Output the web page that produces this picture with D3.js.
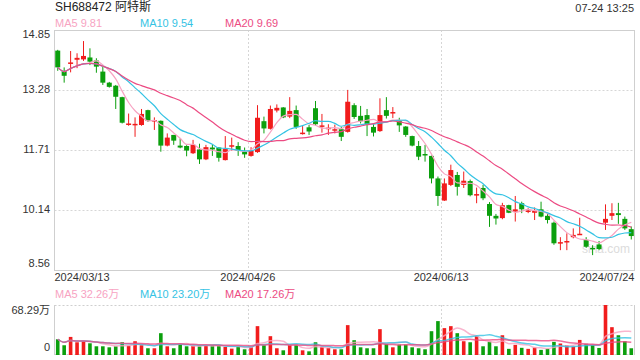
<!DOCTYPE html>
<html><head><meta charset="utf-8">
<script src="https://cdn.jsdelivr.net/npm/d3@7/dist/d3.min.js"></script>
<style>
body{margin:0;background:#fff}
svg{display:block;font-family:"Liberation Sans",Arial,"Noto Sans CJK SC",sans-serif}
</style>
</head><body>
<svg id="c" width="640" height="360"></svg>
<script>
// ---------- data ----------
const title = "SH688472 阿特斯";
const timeLabel = "07-24 13:25";
const dates = [
 "2024/03/13","2024/03/14","2024/03/15","2024/03/18","2024/03/19","2024/03/20","2024/03/21","2024/03/22","2024/03/25","2024/03/26","2024/03/27","2024/03/28","2024/03/29",
 "2024/04/01","2024/04/02","2024/04/03","2024/04/08","2024/04/09","2024/04/10","2024/04/11","2024/04/12","2024/04/15","2024/04/16","2024/04/17","2024/04/18","2024/04/19","2024/04/22","2024/04/23","2024/04/24","2024/04/25","2024/04/26","2024/04/29","2024/04/30",
 "2024/05/06","2024/05/07","2024/05/08","2024/05/09","2024/05/10","2024/05/13","2024/05/14","2024/05/15","2024/05/16","2024/05/17","2024/05/20","2024/05/21","2024/05/22","2024/05/23","2024/05/24","2024/05/27","2024/05/28","2024/05/29","2024/05/30","2024/05/31",
 "2024/06/03","2024/06/04","2024/06/05","2024/06/06","2024/06/07","2024/06/11","2024/06/12","2024/06/13","2024/06/14","2024/06/17","2024/06/18","2024/06/19","2024/06/20","2024/06/21","2024/06/24","2024/06/25","2024/06/26","2024/06/27","2024/06/28",
 "2024/07/01","2024/07/02","2024/07/03","2024/07/04","2024/07/05","2024/07/08","2024/07/09","2024/07/10","2024/07/11","2024/07/12","2024/07/15","2024/07/16","2024/07/17","2024/07/18","2024/07/19","2024/07/22","2024/07/23","2024/07/24"
];
const open = [14.31,13.78,13.98,14.07,14.08,14.13,14.05,13.76,13.47,13.39,13.09,12.38,12.37,12.36,12.75,12.48,12.47,11.82,12.10,11.82,11.81,11.62,11.72,11.46,11.77,11.77,11.44,11.81,11.81,11.66,11.55,11.65,12.46,12.26,12.74,12.82,12.58,12.75,12.14,12.30,12.80,12.32,12.25,12.21,12.25,12.18,12.88,12.60,12.62,12.31,12.20,12.75,12.68,12.49,12.32,12.07,11.81,11.60,11.55,10.96,10.38,10.79,11.05,10.79,10.89,10.51,10.71,10.29,9.98,9.92,10.26,10.09,10.31,10.10,10.06,10.15,9.98,9.80,9.27,9.30,9.42,9.49,9.35,9.14,9.23,9.80,9.98,10.05,9.90,9.63];
const high = [14.33,13.87,14.30,14.24,14.56,14.37,14.11,13.89,13.49,13.41,13.10,12.66,12.56,12.78,12.76,12.56,12.48,12.14,12.10,12.01,11.83,11.97,11.87,11.84,11.85,11.78,12.07,12.03,11.91,11.77,11.78,12.88,12.58,12.87,12.90,12.83,13.09,12.87,12.36,12.36,12.99,12.65,12.38,12.37,12.31,13.28,12.93,12.86,12.78,12.41,13.06,13.09,12.83,12.55,12.33,12.08,11.94,11.84,11.56,11.01,10.96,11.32,11.13,11.14,10.93,10.72,10.79,10.34,10.03,10.32,10.27,10.50,10.35,10.18,10.20,10.35,10.03,9.83,9.42,9.52,9.65,9.93,9.42,9.21,9.32,10.28,10.31,10.32,9.96,9.70];
const low = [13.78,13.47,13.74,13.85,14.04,13.93,13.73,13.41,13.34,12.78,12.40,12.34,12.05,12.34,12.44,12.23,11.66,11.80,11.84,11.75,11.54,11.60,11.34,11.44,11.55,11.40,11.43,11.69,11.55,11.50,11.53,11.63,12.14,12.24,12.69,12.54,12.54,12.26,12.11,12.10,12.35,12.16,12.10,12.14,11.94,12.16,12.52,12.40,12.07,12.06,12.18,12.53,12.54,12.18,12.05,11.80,11.44,11.40,10.83,10.24,10.37,10.76,10.51,10.71,10.49,10.31,10.39,9.69,9.75,9.89,10.05,9.83,10.05,10.05,9.87,9.94,9.78,9.22,9.08,9.08,9.39,9.48,9.14,8.95,9.08,9.61,9.87,9.77,9.61,9.36];
const close = [13.87,13.65,14.00,14.12,14.17,14.02,13.89,13.47,13.36,13.10,12.42,12.40,12.39,12.65,12.47,12.49,11.82,12.03,11.95,11.77,11.69,11.84,11.46,11.78,11.72,11.50,11.73,11.83,11.68,11.59,11.69,12.55,12.27,12.78,12.81,12.56,12.73,12.31,12.16,12.19,12.38,12.35,12.29,12.25,12.05,12.97,12.57,12.46,12.37,12.16,12.62,12.60,12.70,12.35,12.10,11.82,11.53,11.58,10.96,10.50,10.83,11.18,10.74,10.90,10.52,10.55,10.44,9.98,9.91,10.26,10.06,10.15,10.15,10.12,10.11,9.96,9.87,9.26,9.29,9.32,9.48,9.51,9.17,9.10,9.11,9.90,10.05,10.00,9.65,9.45];
// volume in 万
const volume = [21.5,13.3,24.7,17.4,19.2,16.0,11.9,11.9,10.5,11.9,17.4,12.8,18.8,13.3,9.2,9.2,29.8,11.9,9.2,15.1,11.9,12.8,11.9,12.4,13.3,12.4,11.0,8.7,11.9,7.8,11.0,39.4,13.3,25.7,9.2,6.4,14.2,14.2,6.4,5.0,17.4,11.0,9.6,7.8,7.8,40.8,20.2,10.5,9.2,9.2,35.3,15.1,10.5,14.2,14.2,10.5,9.2,7.8,32.5,46.3,36.7,39.4,29.8,18.8,17.4,25.7,11.9,18.3,11.9,27.0,8.4,13.9,9.8,8.4,10.2,7.0,8.4,18.0,15.7,13.4,11.4,20.6,15.5,13.7,9.6,68.29,38.0,27.0,18.8,9.2];

const priceTicks = ["14.85","13.28","11.71","10.14","8.56"];
const dateTicks = ["2024/03/13","2024/04/26","2024/06/13","2024/07/24"];
const volTicks = ["68.29万","0"];
const maPeriods = [5,10,20];
const maNames = ["MA5","MA10","MA20"];
const maPriceLegend = ["9.81","9.54","9.69"];
const maVolLegend = ["32.26万","23.20万","17.26万"];
const maColors = ["#f7a3c2","#35c3e4","#ec4b83"];
const upColor = "#f11c1c", downColor = "#0b9f0d";

// ---------- layout ----------
const L = 54.5, R = 634.5, T = 30, B = 270, VT = 305, VB = 355;
const svg = d3.select("#c");
const n = dates.length;
const x = d3.scaleBand().domain(dates).range([L, R]);
const bw = x.bandwidth();
const cx = d => x(d) + bw / 2;
const y = d3.scaleLinear().domain([+priceTicks[4], +priceTicks[0]]).range([B, T]);
const vy = d3.scaleLinear().domain([0, parseFloat(volTicks[0])]).range([VB, VT]);

function ma(arr, p) {
  return arr.map((v, i) => {
    const s = arr.slice(Math.max(0, i - p + 1), i + 1);
    return d3.mean(s);
  });
}

// text helpers
const txt = (xx, yy, s, opt = {}) => svg.append("text").attr("x", xx).attr("y", yy)
  .attr("font-size", opt.size || 11).attr("fill", opt.fill || "#333")
  .attr("text-anchor", opt.anchor || "start").attr("dominant-baseline", "middle").text(s);

// header
txt(55, 8, title, {size: 12, fill: "#222"});
txt(634, 9, timeLabel, {size: 11, anchor: "end", fill: "#333"});
const legX = [55, 140, 225];
maNames.forEach((m, i) => txt(legX[i], 24, m + " " + maPriceLegend[i], {fill: maColors[i]}));
maNames.forEach((m, i) => txt(legX[i], 295, m + " " + maVolLegend[i], {fill: maColors[i]}));

// watermark
svg.append("text").attr("x", 582).attr("y", 250).attr("font-size", 12).attr("fill", "#dcdcdc")
  .attr("dominant-baseline", "middle").text("sina.com");

// ---------- price panel ----------
const grid = svg.append("g").attr("stroke", "#d6d6d6").attr("stroke-dasharray", "2,2").attr("stroke-width", 1);
priceTicks.slice(1, 4).forEach(t => {
  const yy = Math.round(y(+t)) + 0.5;
  grid.append("line").attr("x1", L).attr("x2", R).attr("y1", yy).attr("y2", yy);
});
dateTicks.slice(1, 3).forEach(d => {
  const xx = Math.round(x(d)) + 0.5;
  grid.append("line").attr("x1", xx).attr("x2", xx).attr("y1", T).attr("y2", B);
  grid.append("line").attr("x1", xx).attr("x2", xx).attr("y1", VT).attr("y2", VB);
});
svg.append("rect").attr("x", L).attr("y", T + 0.5).attr("width", R - L).attr("height", B - T)
  .attr("fill", "none").attr("stroke", "#cfcfcf");

// y labels
priceTicks.forEach((t, i) => {
  let yy = y(+t);
  if (i === 0) yy += 5;
  if (i === priceTicks.length - 1) yy -= 6;
  txt(50, yy, t, {anchor: "end"});
});
// x labels
dateTicks.forEach((d, i) => {
  const anchor = i === 0 ? "start" : (i === dateTicks.length - 1 ? "end" : "middle");
  const xx = i === 0 ? L : (i === dateTicks.length - 1 ? R : x(d));
  txt(xx, 278, d, {anchor});
});

// candles
const cg = svg.append("g");
dates.forEach((d, i) => {
  const up = close[i] >= open[i];
  const col = up ? upColor : downColor;
  const xc = cx(d);
  cg.append("line").attr("x1", xc).attr("x2", xc).attr("y1", y(high[i])).attr("y2", y(low[i]))
    .attr("stroke", col).attr("stroke-width", 1);
  const top = y(Math.max(open[i], close[i])), bot = y(Math.min(open[i], close[i]));
  const bodyW = 5;
  cg.append("rect").attr("x", xc - bodyW / 2).attr("y", top).attr("width", bodyW)
    .attr("height", Math.max(1.5, bot - top)).attr("fill", col);
});

// MA lines (price)
maPeriods.forEach((p, k) => {
  const m = ma(close, p);
  svg.append("path").datum(m).attr("fill", "none").attr("stroke", maColors[k]).attr("stroke-width", 1.2)
    .attr("d", d3.line().x((v, i) => cx(dates[i])).y(v => y(v)).curve(d3.curveMonotoneX));
});

// ---------- volume panel ----------
const vg = svg.append("g").attr("stroke", "#cfcfcf");
vg.append("line").attr("x1", L).attr("x2", L).attr("y1", VT).attr("y2", VB);
vg.append("line").attr("x1", R).attr("x2", R).attr("y1", VT).attr("y2", VB);
vg.append("line").attr("x1", L).attr("x2", R).attr("y1", VT + 0.5).attr("y2", VT + 0.5).attr("stroke-dasharray", "2,2");
vg.append("line").attr("x1", L).attr("x2", R).attr("y1", VB - 0.5).attr("y2", VB - 0.5).attr("stroke-dasharray", "2,2");

txt(50, 311, volTicks[0], {anchor: "end"});
txt(50, 348, volTicks[1], {anchor: "end"});

dates.forEach((d, i) => {
  const up = close[i] >= open[i];
  const vw = 3.6;
  svg.append("rect").attr("x", cx(d) - vw / 2).attr("y", vy(volume[i])).attr("width", vw)
    .attr("height", VB - vy(volume[i])).attr("fill", up ? upColor : downColor);
});
maPeriods.forEach((p, k) => {
  const m = ma(volume, p);
  svg.append("path").datum(m).attr("fill", "none").attr("stroke", maColors[k]).attr("stroke-width", 1.5)
    .attr("stroke-opacity", 0.8)
    .attr("d", d3.line().x((v, i) => cx(dates[i])).y(v => vy(v)).curve(d3.curveMonotoneX));
});
</script>
</body></html>
